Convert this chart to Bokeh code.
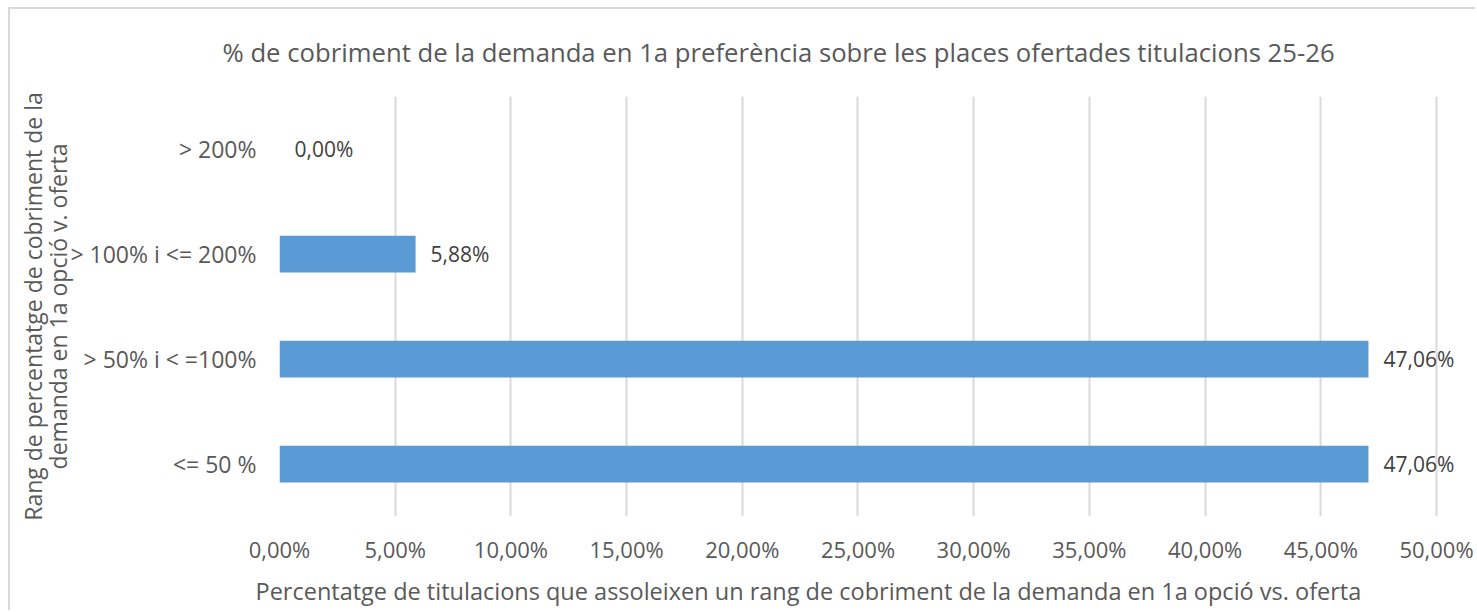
from bokeh.plotting import figure
from bokeh.models import FactorRange, Range1d, ColumnDataSource, LabelSet, CustomJSTickFormatter, FixedTicker, Title
from bokeh.core.properties import value
from bokeh.embed import file_html
from bokeh.resources import INLINE

categories = ["<= 50 %", "> 50% i < =100%", "> 100% i <= 200%", "> 200%"]
values = [47.06, 47.06, 5.88, 0.00]
labels = ["47,06%", "47,06%", "5,88%", "0,00%"]
x_ticks = [0, 5, 10, 15, 20, 25, 30, 35, 40, 45, 50]

title_text = "% de cobriment de la demanda en 1a preferència sobre les places ofertades titulacions 25-26"
x_label = "Percentatge de titulacions que assoleixen un rang de cobriment de la demanda en 1a opció vs. oferta"
y_label = "Rang de percentatge de cobriment de la\ndemanda en 1a opció v. oferta"

FONT = "Open Sans"
GREY = "#595959"

src = ColumnDataSource(dict(cat=categories, val=values, lab=labels))

p = figure(width=1467, height=603, output_backend="svg", toolbar_location=None,
           y_range=FactorRange(factors=categories, range_padding=0),
           x_range=Range1d(0, 51.34),
           min_border_left=269, min_border_right=10, min_border_top=83, min_border_bottom=94)
p.styles = {"border-left": "2px solid #d9d9d9", "border-top": "2px solid #d9d9d9",
            "margin-left": "8px", "margin-top": "7px"}

p.hbar(y="cat", right="val", height=0.35, source=src, color="#5B9BD5", line_color=None)

p.add_layout(LabelSet(x="val", y="cat", text="lab", source=src, x_offset=15,
                      text_baseline="middle", text_font=value(FONT), text_font_size="21px",
                      text_color="#404040"))

p.title.text = title_text
p.title.text_font = FONT
p.title.text_font_size = "25.7px"
p.title.text_font_style = "normal"
p.title.text_color = GREY
p.title.align = "left"
p.title.vertical_align = "top"
p.title.offset = -57
p.title.standoff = 50

p.outline_line_color = None
p.background_fill_color = "white"

p.xaxis.ticker = FixedTicker(ticks=x_ticks)
p.xaxis.formatter = CustomJSTickFormatter(code="return tick.toFixed(2).replace('.', ',') + '%';")
p.xaxis.axis_line_color = None
p.xaxis.major_tick_line_color = None
p.xaxis.minor_tick_line_color = None
p.xaxis.major_label_standoff = 11
p.xaxis.major_label_text_font = FONT
p.xaxis.major_label_text_font_size = "22px"
p.xaxis.major_label_text_color = GREY

xt = Title(text=x_label, align="left", offset=-24, standoff=12, text_font=FONT,
           text_font_size="23.5px", text_font_style="normal", text_color=GREY)
p.add_layout(xt, "below")

p.yaxis.axis_line_color = None
p.yaxis.major_tick_line_color = None
p.yaxis.minor_tick_line_color = None
p.yaxis.major_label_standoff = 17
p.yaxis.major_label_text_font = FONT
p.yaxis.major_label_text_font_size = "23px"
p.yaxis.major_label_text_color = GREY
p.yaxis.axis_label = y_label
p.yaxis.axis_label_text_font = FONT
p.yaxis.axis_label_text_font_size = "23px"
p.yaxis.axis_label_text_font_style = "normal"
p.yaxis.axis_label_text_color = GREY
p.yaxis.axis_label_text_line_height = 0.8
p.yaxis.axis_label_standoff = -7

p.xgrid.grid_line_color = "#d9d9d9"
p.xgrid.grid_line_width = 2
p.ygrid.grid_line_color = None

open("out.html", "w").write(file_html(p, INLINE))
